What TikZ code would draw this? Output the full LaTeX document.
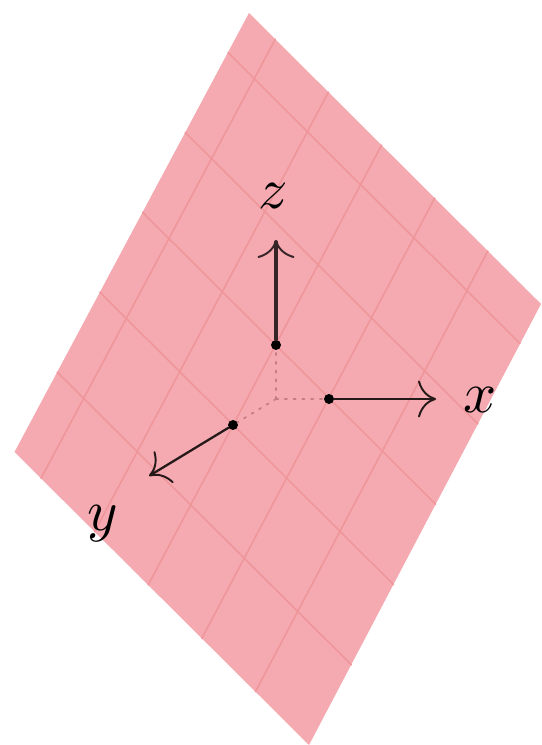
\documentclass[tikz,border=0pt]{standalone}
\usetikzlibrary{arrows.meta,calc}
\definecolor{planefill}{RGB}{244,170,176}
\definecolor{planeline}{RGB}{239,150,154}
\definecolor{dotline}{RGB}{196,125,130}
\tikzset{
  axisdot/.style={circle,fill=black,inner sep=0pt,minimum size=0.2cm},
  axisarrow/.style={line width=1.3pt,draw=black!85!planefill,
    -{Computer Modern Rightarrow[length=0.36cm,width=0.74cm,line width=1.1pt]}},
  axisdots/.style={dotline,line width=1pt,dash pattern=on 1.2pt off 3.8pt},
  axislabel/.style={scale=3.3,inner sep=0pt}
}
\begin{document}
\begin{tikzpicture}[line cap=round,line join=round]
  \useasboundingbox (0,0) rectangle (10.82,14.9);
  \coordinate (top) at (4.98,14.64);
  \coordinate (right) at (10.82,8.82);
  \coordinate (bottom) at (6.18,0);
  \coordinate (left) at (0.29,5.86);
  \fill[planefill] (top) -- (right) -- (bottom) -- (left) -- cycle;
  \foreach \t in {0.09,0.272,0.454,0.636,0.818}{
    \draw[planeline,line width=0.9pt] ($(top)!\t!(left)$) -- ($(right)!\t!(bottom)$);
    \draw[planeline,line width=0.9pt] ($(top)!\t!(right)$) -- ($(left)!\t!(bottom)$);
  }
  \coordinate (origin) at (5.52,6.92);
  \node[axisdot] (dotx) at (6.58,6.92) {};
  \node[axisdot] (doty) at (4.66,6.4) {};
  \node[axisdot] (dotz) at (5.52,8.0) {};
  \coordinate (tipx) at (8.72,6.92);
  \coordinate (tipy) at (2.98,5.38);
  \coordinate (tipz) at (5.52,10.1);
  \draw[axisarrow] (dotx) -- (tipx);
  \draw[axisarrow] (doty) -- (tipy);
  \draw[axisarrow,line width=1.9pt,draw=black!78!planefill] (dotz) -- (tipz);
  \draw[axisdots] (origin) -- (dotx);
  \draw[axisdots] (origin) -- (doty);
  \draw[axisdots] (origin) -- (dotz);
  \node[axislabel] (labelx) at (9.6,6.9) {$x$};
  \node[axislabel] (labely) at (2.06,4.42) {$y$};
  \node[axislabel] (labelz) at (5.46,10.98) {$z$};
\end{tikzpicture}
\end{document}
